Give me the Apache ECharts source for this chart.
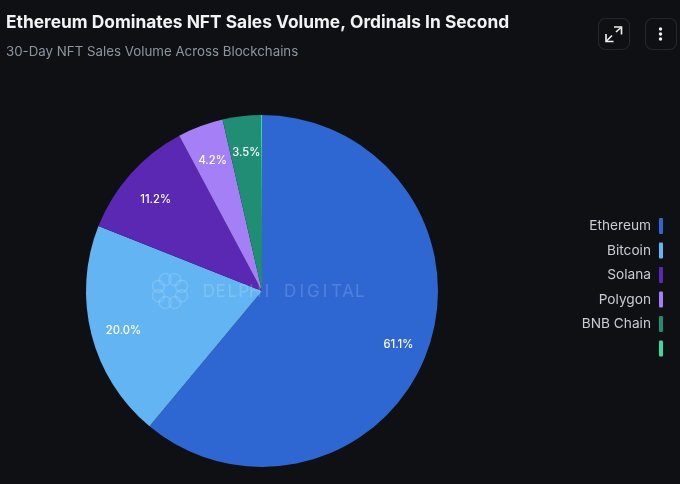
<!DOCTYPE html>
<html>
<head>
<meta charset="utf-8">
<style>
html,body{margin:0;padding:0;background:#0e1013;}
#chart{width:680px;height:484px;}
</style>
<script src="https://cdn.jsdelivr.net/npm/echarts@6/dist/echarts.min.js"></script>
</head>
<body>
<div id="chart"></div>
<script>
var categories=['Ethereum','Bitcoin','Solana','Polygon','BNB Chain',' '];
var salesShare=[61.1,20.0,11.2,4.2,3.5,0.1];
var sliceColors=['#2f67d2','#62b5f2','#5b28b4','#a47ff5','#1f8e74','#3fd8a0'];
var watermark='DELPHI DIGITAL';

var pieData=categories.map(function(name,i){
    return {name:name,value:salesShare[i],itemStyle:{color:sliceColors[i]}};
});
var labelData=categories.map(function(name,i){
    return {name:name,value:salesShare[i]};
});

// watermark ring
var logoParts=[];
for(var i=0;i<8;i++){
    var a=i*Math.PI/4+Math.PI/8;
    logoParts.push({
        type:'circle',
        shape:{cx:170+Math.cos(a)*12.5,cy:291+Math.sin(a)*12.5,r:6},
        style:{fill:'none',stroke:'rgba(255,255,255,0.15)',lineWidth:1.5},
        silent:true,z:10
    });
}
// letterSpacing is not applied on canvas text, so the wide word mark goes letter by letter
watermark.split('').forEach(function(ch,i){
    logoParts.push({
        type:'text',
        x:209+i*11.6,
        y:292,
        silent:true,
        z:10,
        style:{text:ch,fill:'rgba(255,255,255,0.17)',fontFamily:'Inter',fontSize:17,fontWeight:400,align:'center',verticalAlign:'middle'}
    });
});

var myChart=echarts.init(document.getElementById('chart'));

var options={
    backgroundColor:'#0e1013',
    animation:false,
    title:{
        text:'Ethereum Dominates NFT Sales Volume, Ordinals In Second',
        subtext:'30-Day NFT Sales Volume Across Blockchains',
        left:1,
        top:9,
        itemGap:14,
        textStyle:{color:'#f2f3f5',fontFamily:'Inter',fontSize:17.35,fontWeight:700},
        subtextStyle:{color:'#8f94a0',fontFamily:'Inter',fontSize:13.3,fontWeight:400}
    },
    legend:{
        orient:'vertical',
        right:12,
        top:213,
        align:'right',
        icon:'roundRect',
        itemWidth:4,
        itemHeight:16,
        itemGap:8.5,
        selectedMode:false,
        textStyle:{color:'#c9ccd2',fontFamily:'Inter',fontSize:13.7,padding:[1,3,0,0]},
        data:categories
    },
    series:[
        {
            type:'pie',
            center:[262,291],
            radius:[0,176],
            startAngle:90,
            clockwise:true,
            silent:true,
            label:{show:false},
            labelLine:{show:false},
            data:pieData
        },
        // transparent ring, only there to put the labels near the rim
        {
            type:'pie',
            center:[262,291],
            radius:[106,176],
            startAngle:90,
            clockwise:true,
            silent:true,
            itemStyle:{color:'rgba(0,0,0,0)'},
            label:{
                show:true,
                position:'inside',
                offset:[1,4.5],
                color:'#ffffff',
                fontFamily:'Inter',
                fontSize:11.2,
                fontWeight:500,
                formatter:function(p){
                    return p.value<1?'':p.value.toFixed(1)+'%';
                }
            },
            labelLine:{show:false},
            data:labelData
        }
    ],
    graphic:logoParts.concat([
        {type:'rect',shape:{x:598.5,y:18.5,width:31,height:31,r:7},style:{fill:'none',stroke:'#24262b',lineWidth:1.2},silent:true},
        {type:'rect',shape:{x:645.5,y:18.5,width:31,height:31,r:7},style:{fill:'none',stroke:'#24262b',lineWidth:1.2},silent:true},
        {type:'polyline',shape:{points:[[606,34],[606,41.5],[613.5,41.5]]},style:{fill:'none',stroke:'#f0f0f0',lineWidth:1.6},silent:true},
        {type:'polyline',shape:{points:[[614,27],[621.5,27],[621.5,34.5]]},style:{fill:'none',stroke:'#f0f0f0',lineWidth:1.6},silent:true},
        {type:'line',shape:{x1:606.5,y1:41,x2:612,y2:35.5},style:{stroke:'#f0f0f0',lineWidth:1.6},silent:true},
        {type:'line',shape:{x1:616,y1:32,x2:621,y2:27.5},style:{stroke:'#f0f0f0',lineWidth:1.6},silent:true},
        {type:'circle',shape:{cx:660.5,cy:29,r:1.7},style:{fill:'#f0f0f0'},silent:true},
        {type:'circle',shape:{cx:660.5,cy:34,r:1.7},style:{fill:'#f0f0f0'},silent:true},
        {type:'circle',shape:{cx:660.5,cy:39,r:1.7},style:{fill:'#f0f0f0'},silent:true}
    ])
};

myChart.setOption(options);
</script>
</body>
</html>
